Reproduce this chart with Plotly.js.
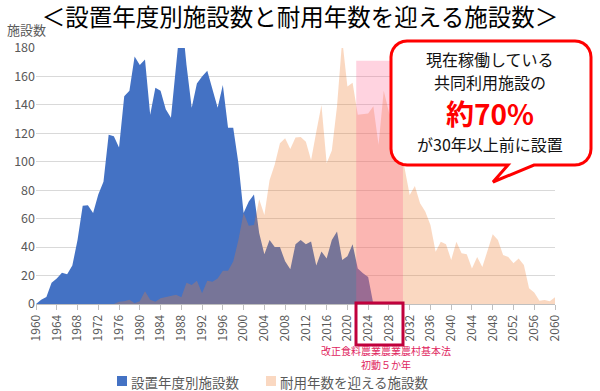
<!DOCTYPE html>
<html>
<head>
<meta charset="utf-8">
<script src="https://cdn.plot.ly/plotly-3.0.1.min.js"></script>
<style>
html,body{margin:0;padding:0;background:#fff;}
#chart{width:600px;height:391px;}
</style>
</head>
<body>
<div id="chart"></div>
<script>
// ---- data ----
const yearsInstalled = [];
for (let y = 1960; y <= 2025; y++) yearsInstalled.push(y);
const yearsLife = [];
for (let y = 1960; y <= 2060; y++) yearsLife.push(y);

// 設置年度別施設数 (1960-2025)
const installed = [
  0, 3, 5, 15, 18, 22, 21, 27, 45, 69,
  69.5, 64, 77, 86, 119, 118, 110, 146, 150, 174,
  168, 172, 133, 152, 150, 137, 131, 172, 205, 168,
  138, 155, 160, 164, 151, 138, 154, 124, 124, 99,
  64, 72, 77, 50, 35, 45, 40, 40, 30, 24.5,
  42, 45, 42, 44, 27, 37, 32, 45, 51, 31,
  33.5, 42, 25, 21.6, 19, 0
];

// 耐用年数を迎える施設数 (1960-2060)
const reachingLife = [
  0, 0, 0, 0, 0, 0, 0, 0, 0, 0,
  0, 0, 0, 0, 0, 0, 1.6, 2, 3, 0.5,
  2, 9, 3, 1.6, 4, 5, 5.5, 6.5, 4.7, 15,
  13.4, 16.4, 7.5, 16.4, 15.7, 18, 23.4, 23.4, 29.8, 45,
  64, 55, 55.6, 73.6, 62.6, 87, 98, 113, 116.5, 109,
  117, 117.5, 114, 101, 121, 140, 99, 108, 139, 186,
  153, 155.6, 133, 133.6, 134, 139, 112, 150, 135, 125,
  110, 96, 76.6, 83, 70.8, 65, 55.6, 36.8, 43.8, 42,
  31, 43.8, 35.6, 35, 25, 33, 26, 38, 49, 45,
  34.5, 33, 28.6, 32, 27.4, 11, 8, 2.3, 2.8, 2,
  4.7
];

const tickYears = [];
for (let y = 1960; y <= 2060; y += 4) tickYears.push(y);
const tickLabels = tickYears.map(String);

const seriesNames = ['設置年度別施設数', '耐用年数を迎える施設数'];
const chartTitle = '＜設置年度別施設数と耐用年数を迎える施設数＞';
const yTitle = '施設数';
const calloutLines = ['現在稼働している', '共同利用施設の', '約70%', 'が30年以上前に設置'];
const lawNote = ['改正食料農業農業農村基本法', '初動５か年'];
const bandYears = [2021.7, 2030.7];
const bandTop = 171;

// ---- layout geometry (pixels) ----
const W = 600, H = 391;
const L = 36, R = 555, T = 48, B = 304;
const px = x => (x - L) / (R - L);
const py = y => (B - y) / (B - T);

const FONT = '"Noto Sans CJK JP", "Noto Sans", sans-serif';
const GRAY = '#595959';

function pathFromPx(pts) {
  return pts.map((p, i) => (i === 0 ? 'M' : 'L') + px(p[0]).toFixed(5) + ',' + py(p[1]).toFixed(5)).join(' ') + ' Z';
}

// rounded callout with tail
function calloutPath(x0, y0, x1, y1, r, tail) {
  const c = [];
  const arc = (cx, cy, a0, a1) => {
    for (let k = 0; k <= 6; k++) {
      const a = a0 + (a1 - a0) * k / 6;
      c.push([cx + r * Math.cos(a), cy + r * Math.sin(a)]);
    }
  };
  arc(x0 + r, y0 + r, Math.PI, 1.5 * Math.PI);
  arc(x1 - r, y0 + r, 1.5 * Math.PI, 2 * Math.PI);
  arc(x1 - r, y1 - r, 0, 0.5 * Math.PI);
  c.push([tail[3], y1]);
  c.push([tail[0], tail[1]]);
  c.push([tail[2], y1]);
  arc(x0 + r, y1 - r, 0.5 * Math.PI, Math.PI);
  return pathFromPx(c);
}

const traces = [
  {
    x: yearsInstalled, y: installed, name: seriesNames[0],
    type: 'scatter', mode: 'lines', fill: 'tozeroy',
    line: {width: 0, color: '#4472C4'}, fillcolor: '#4472C4',
    hoverinfo: 'x+y'
  },
  {
    x: yearsLife, y: reachingLife, name: seriesNames[1],
    type: 'scatter', mode: 'lines', fill: 'tozeroy',
    line: {width: 0, color: 'rgba(237,125,49,0.3)'}, fillcolor: 'rgba(237,125,49,0.3)',
    hoverinfo: 'x+y'
  }
];

const shapes = [
  // highlight band
  {type: 'rect', xref: 'x', yref: 'y', x0: bandYears[0], x1: bandYears[1], y0: 0, y1: bandTop,
   fillcolor: 'rgba(255,85,135,0.26)', line: {width: 0}, layer: 'above'},
  // red box around 2024 / 2028 labels
  {type: 'rect', xref: 'paper', yref: 'paper', x0: px(356), x1: px(403), y0: py(303), y1: py(345),
   fillcolor: 'rgba(0,0,0,0)', line: {color: '#C0003C', width: 3}, layer: 'above'},
  // callout bubble
  {type: 'path', xref: 'paper', yref: 'paper',
   path: calloutPath(391, 41, 591, 165, 16, [493, 182, 508, 534]),
   fillcolor: '#FFFFFF', line: {color: '#FF0000', width: 3}, layer: 'above'},
  // legend markers
  {type: 'rect', xref: 'paper', yref: 'paper', x0: px(117), x1: px(127), y0: py(386), y1: py(376),
   fillcolor: '#4472C4', line: {width: 0}},
  {type: 'rect', xref: 'paper', yref: 'paper', x0: px(266), x1: px(276), y0: py(386), y1: py(376),
   fillcolor: 'rgba(237,125,49,0.3)', line: {width: 0}}
];

const annotations = [
  {text: yTitle, xref: 'paper', yref: 'paper', x: px(26), y: py(29), showarrow: false, borderpad: 0,
   font: {family: FONT, size: 13, color: GRAY}, xanchor: 'center', yanchor: 'middle'},
  {text: calloutLines[0], xref: 'paper', yref: 'paper', x: px(490), y: py(59), showarrow: false,
   font: {family: FONT, size: 16, color: '#111'}, xanchor: 'center', yanchor: 'middle'},
  {text: calloutLines[1], xref: 'paper', yref: 'paper', x: px(490), y: py(82), showarrow: false,
   font: {family: FONT, size: 16, color: '#111'}, xanchor: 'center', yanchor: 'middle'},
  {text: '<b>' + calloutLines[2] + '</b>', xref: 'paper', yref: 'paper', x: px(490), y: py(113), showarrow: false,
   font: {family: FONT, size: 28, color: '#FF0000'}, xanchor: 'center', yanchor: 'middle'},
  {text: calloutLines[3], xref: 'paper', yref: 'paper', x: px(490), y: py(144), showarrow: false,
   font: {family: FONT, size: 16, color: '#111'}, xanchor: 'center', yanchor: 'middle'},
  {text: lawNote[0], xref: 'paper', yref: 'paper', x: px(386), y: py(350.5), showarrow: false,
   borderpad: 0, font: {family: FONT, size: 10, color: '#E0245E'}, xanchor: 'center', yanchor: 'middle'},
  {text: lawNote[1], xref: 'paper', yref: 'paper', x: px(386), y: py(364.5), showarrow: false,
   borderpad: 0, font: {family: FONT, size: 10, color: '#E0245E'}, xanchor: 'center', yanchor: 'middle'},
  {text: seriesNames[0], xref: 'paper', yref: 'paper', x: px(130), y: py(381.5), showarrow: false, borderpad: 0,
   font: {family: FONT, size: 13.5, color: GRAY}, xanchor: 'left', yanchor: 'middle'},
  {text: seriesNames[1], xref: 'paper', yref: 'paper', x: px(279), y: py(381.5), showarrow: false, borderpad: 0,
   font: {family: FONT, size: 13.5, color: GRAY}, xanchor: 'left', yanchor: 'middle'}
];

const layout = {
  width: W, height: H,
  margin: {l: L, r: W - R, t: T, b: H - B, pad: 0},
  paper_bgcolor: '#fff', plot_bgcolor: '#fff',
  showlegend: false,
  title: {text: chartTitle, font: {family: FONT, size: 23.5, color: '#000'},
          x: 0.5, xref: 'container', xanchor: 'center', y: 1 - 18 / H, yref: 'container', yanchor: 'middle'},
  xaxis: {
    range: [1960, 2060], tickmode: 'array', tickvals: tickYears, ticktext: tickLabels,
    tickangle: -90, tickfont: {family: FONT, size: 12, color: GRAY},
    ticks: 'outside', ticklen: 5, tickcolor: '#BFBFBF',
    showline: true, linecolor: '#BFBFBF', showgrid: false, zeroline: false, fixedrange: true
  },
  yaxis: {
    range: [0, 180], dtick: 20, tickfont: {family: FONT, size: 12.5, color: GRAY},
    showgrid: true, gridcolor: '#D9D9D9', zeroline: false, showline: false, ticks: '', fixedrange: true
  },
  shapes: shapes,
  annotations: annotations
};

Plotly.newPlot('chart', traces, layout, {displayModeBar: false, staticPlot: true});
</script>
</body>
</html>
